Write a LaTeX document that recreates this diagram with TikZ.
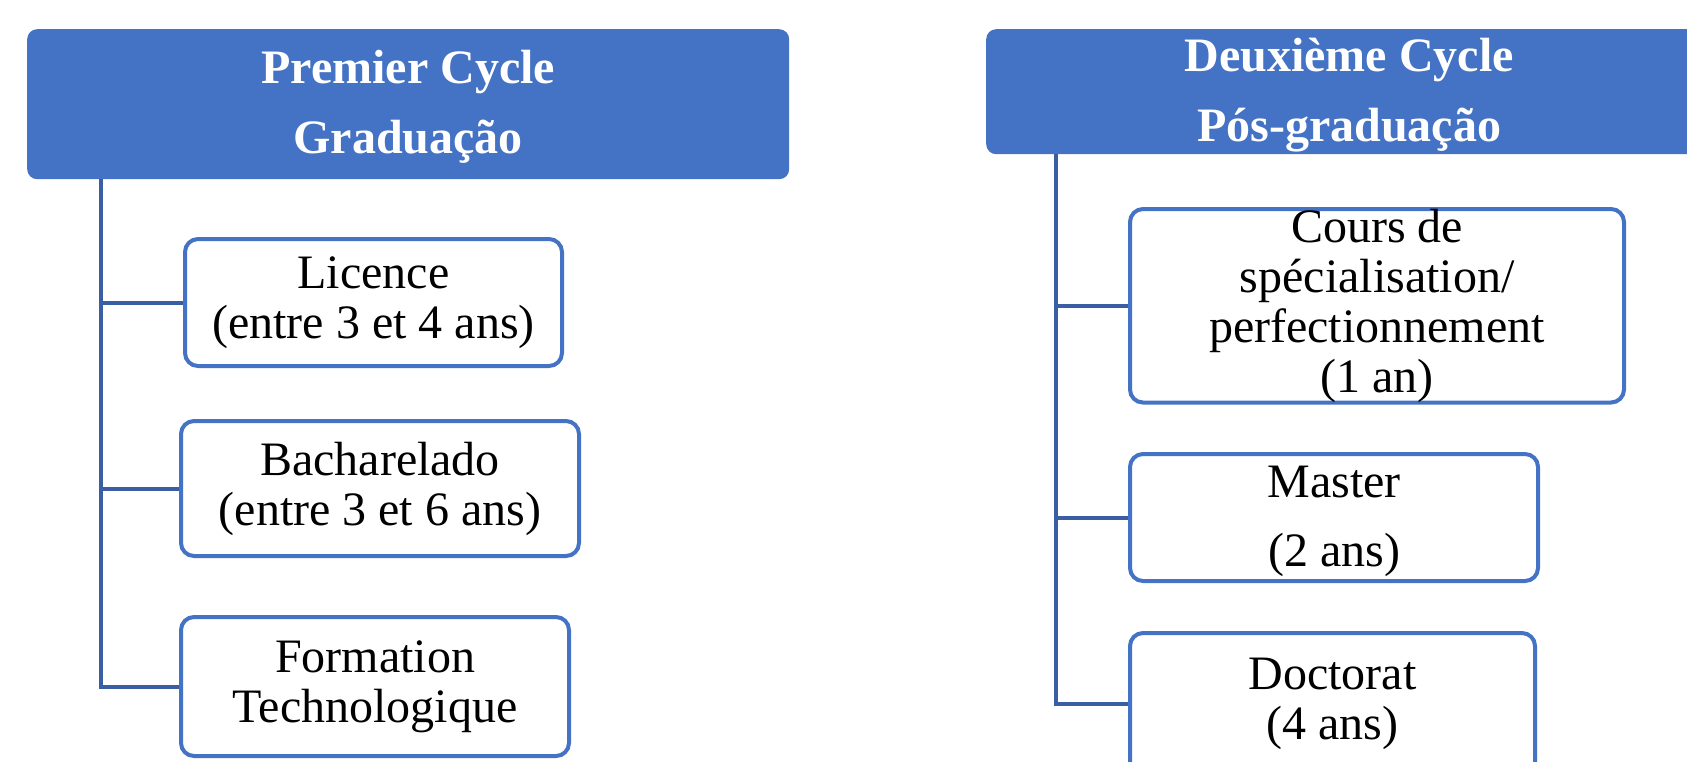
\documentclass[tikz,border=0pt]{standalone}
\usepackage{fontspec}
\setmainfont{Liberation Serif}
\usetikzlibrary{positioning}
\definecolor{cycleblue}{HTML}{4472C4}
\definecolor{trunkblue}{HTML}{3A5DA3}
\newcommand{\lowerfirst}[1]{\rule{0pt}{#1}} % pushes the first line of a box down
\tikzset{
    cyclebox/.style={fill=cycleblue, rounded corners=10pt, text=white, font=\fontsize{48}{70}\selectfont\bfseries, align=center, anchor=north west, inner sep=0pt}, % header of each cycle
    levelbox/.style={draw=cycleblue, line width=4pt, fill=white, rounded corners=13pt, font=\fontsize{48}{50}\selectfont, align=center, anchor=north west, inner sep=0pt}, % one diploma
    branch/.style={draw=trunkblue, line width=4pt}, % connector lines
}
\begin{document}
\begin{tikzpicture}[x=1pt, y=-1pt]
    \useasboundingbox (0,0) rectangle (1687,761);
    \clip (0,0) rectangle (1687,761);

        % first cycle
        \node[cyclebox, minimum width=762pt, minimum height=150pt] (prem) at (27,29) {\lowerfirst{39pt}Premier Cycle\\Graduação};
        \node[levelbox, minimum width=377pt, minimum height=127pt] (lic) at (183,237) {Licence\\(entre 3 et 4 ans)};
        \node[levelbox, minimum width=398pt, minimum height=135pt] (bach) at (179,419) {Bacharelado\\(entre 3 et 6 ans)};
        \node[levelbox, minimum width=388pt, minimum height=139pt] (form) at (179,615) {Formation\\Technologique};

        % second cycle
        \node[cyclebox, minimum width=726pt, minimum height=125pt] (deux) at (986,29) {\lowerfirst{40pt}Deuxième Cycle\\Pós-graduação};
        \node[levelbox, minimum width=494pt, minimum height=189pt] (cours) at (1128,207) {Cours de\\spécialisation/\\perfectionnement\\(1 an)};
        \node[levelbox, minimum width=408pt, minimum height=127pt, font=\fontsize{48}{69}\selectfont] (mast) at (1128,452) {\lowerfirst{40pt}Master\\(2 ans)};
        \node[levelbox, minimum width=405pt, minimum height=142pt] (doct) at (1128,631) {Doctorat\\(4 ans)};

        \coordinate (trunkL) at (101,179);
        \coordinate (trunkR) at (1056,154);

        \draw[branch] (trunkL) |- (form.west)
        (trunkL |- lic.west) -- (lic.west)
        (trunkL |- bach.west) -- (bach.west);
        \draw[branch] (trunkR) |- (doct.west)
        (trunkR |- cours.west) -- (cours.west)
        (trunkR |- mast.west) -- (mast.west);

    \end{tikzpicture}
\end{document}
